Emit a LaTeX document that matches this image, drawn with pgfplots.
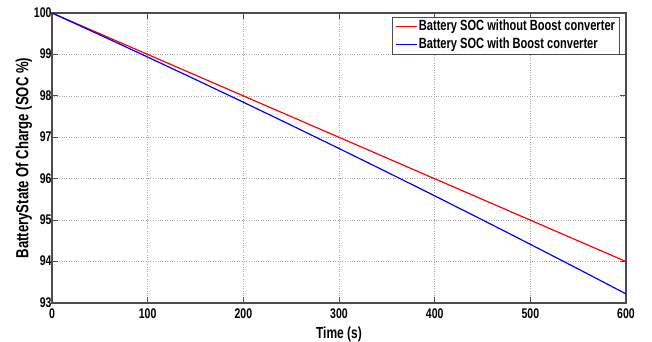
\documentclass[border=0pt]{standalone}
\usepackage{fontspec}
\setmainfont[FakeStretch=0.75]{Liberation Sans}
\usepackage{pgfplots}
\pgfplotsset{compat=1.18}
\begin{document}
\begin{tikzpicture}
\begin{axis}[
  scale only axis,
  width=574pt, height=290pt,
  xmin=0, xmax=600, ymin=93, ymax=100,
  xtick={0,100,...,600}, ytick={93,94,...,100},
  tick align=inside,
  major tick length=6pt,
  axis line style={draw=black!70, line width=1.3pt},
  every tick/.style={black!70, line width=0.9pt},
  grid=major,
  grid style={black!35, dotted, line width=0.7pt},
  ticklabel style={font=\fontsize{14}{16}\selectfont\bfseries},
  /pgf/number format/assume math mode=true,
  xlabel={Time (s)},
  ylabel={BatteryState Of Charge (SOC \%)},
  xlabel style={font=\fontsize{16}{18}\selectfont\bfseries, yshift=-1pt},
  ylabel style={font=\fontsize{17.5}{19}\selectfont\bfseries, yshift=-5pt},
  xticklabel style={yshift=-2.5pt},
  yticklabel style={xshift=3pt, yshift=0.5pt},
  legend style={at={(rel axis cs:1,1)}, anchor=north east, xshift=-6.7pt, yshift=-4.3pt,
    draw=black!70, line width=0.6pt,
    font=\fontsize{14.8}{16}\selectfont\bfseries, inner xsep=3pt, inner ysep=1.5pt, row sep=2.5pt,
    nodes={inner sep=1pt, text height=10.5pt, text depth=3pt},
    /tikz/every even column/.append style={column sep=0pt}},
  legend cell align=left,
  legend image code/.code={\draw[#1, line width=1.2pt] (0pt,0pt) -- (21pt,0pt);},
]
\addplot[red, line width=1.2pt] coordinates {(0,100) (600,94)};
\addlegendentry{Battery SOC without Boost converter}
\addplot[blue, line width=1.2pt] coordinates {
(0,100) (50,99.472) (100,98.937) (150,98.395) (200,97.847) (250,97.292)
(300,96.73) (350,96.162) (400,95.587) (450,95.005) (500,94.417) (550,93.822) (600,93.22)};
\addlegendentry{Battery SOC with Boost converter}
\end{axis}
\pgfresetboundingbox
\path (-52pt,-38pt) rectangle (600pt,303pt);
\end{tikzpicture}
\end{document}
